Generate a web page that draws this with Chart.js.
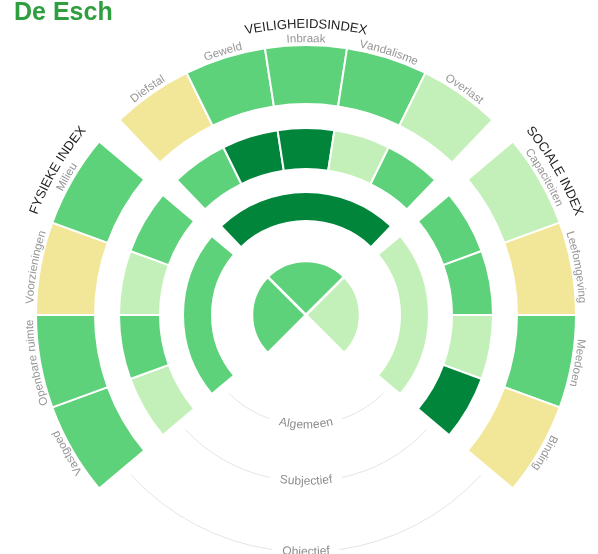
<!DOCTYPE html>
<html>
<head>
<meta charset="utf-8">
<script src="https://cdn.jsdelivr.net/npm/chart.js@4.4.1/dist/chart.umd.min.js"></script>
<style>
  html, body { margin: 0; padding: 0; background: #fff; }
  #wrap { position: relative; width: 598px; height: 554px; overflow: hidden; }
  #wheel { position: absolute; left: 0; top: 0; }
  #title {
    position: absolute; left: 14px; top: -1px;
    font: bold 25px 'Liberation Sans', Arial, sans-serif; line-height: 25px;
    color: #2e9e3e;
  }
</style>
</head>
<body>
<div id="wrap">
  <canvas id="wheel" width="598" height="554"></canvas>
  <div id="title">De Esch</div>
</div>
<script>
// scores: 1 = geel (onder gemiddeld), 2 = lichtgroen, 3 = groen, 4 = donkergroen
// indicators are listed clockwise, starting at the bottom left
const fysiekeLabels = ['Vastgoed', 'Openbare ruimte', 'Voorzieningen', 'Milieu'];
const fysiekeObjectief = [3, 3, 1, 3];
const fysiekeSubjectief = [2, 3, 2, 3];

const veiligheidLabels = ['Diefstal', 'Geweld', 'Inbraak', 'Vandalisme', 'Overlast'];
const veiligheidObjectief = [1, 3, 3, 3, 2];
const veiligheidSubjectief = [3, 4, 4, 2, 3];

const socialeLabels = ['Capaciteiten', 'Leefomgeving', 'Meedoen', 'Binding'];
const socialeObjectief = [2, 1, 3, 1];
const socialeSubjectief = [3, 3, 2, 4];

const indexLabels = ['FYSIEKE INDEX', 'VEILIGHEIDSINDEX', 'SOCIALE INDEX'];
const algemeenScores = [3, 4, 2];   // fysiek, veiligheid, sociaal
const totaalScores = [3, 3, 2];     // centre pie: left, top, right

const ringLabels = ['Objectief', 'Subjectief', 'Algemeen'];

const scoreColors = { 1: '#f2e798', 2: '#c3f0b8', 3: '#5ed17b', 4: '#00853b' };
const NONE = 'rgba(0,0,0,0)';

// angular layout (degrees)
const SIDE_LEAF = 20, TOP_LEAF = 17.5, SECTOR_GAP = 6.25, BOTTOM_GAP = 100;

function leafRing(fys, vei, soc, weight) {
  const data = [], bg = [], bw = [];
  const add = (size, score) => {
    data.push(size);
    bg.push(score ? scoreColors[score] : NONE);
    bw.push(score ? 2 : 0);
  };
  fys.forEach(s => add(SIDE_LEAF, s));
  add(SECTOR_GAP);
  vei.forEach(s => add(TOP_LEAF, s));
  add(SECTOR_GAP);
  soc.forEach(s => add(SIDE_LEAF, s));
  add(BOTTOM_GAP);
  return { data, backgroundColor: bg, borderWidth: bw, borderColor: '#fff', weight };
}

function sectorRing(scores, weight) {
  const c = scores.map(s => scoreColors[s]);
  return {
    data: [4 * SIDE_LEAF, SECTOR_GAP, 5 * TOP_LEAF, SECTOR_GAP, 4 * SIDE_LEAF, BOTTOM_GAP],
    backgroundColor: [c[0], NONE, c[1], NONE, c[2], NONE],
    borderWidth: [2, 0, 2, 0, 2, 0],
    borderColor: '#fff',
    weight
  };
}

function spacer(weight) {
  return { data: [1], backgroundColor: NONE, borderWidth: 0, weight };
}

const pie = {
  data: [90, 90, 90, 90],
  rotation: 225,
  backgroundColor: [...totaalScores.map(s => scoreColors[s]), NONE],
  borderWidth: [2.5, 2.5, 2.5, 0],
  borderColor: '#fff',
  weight: 54
};

const datasets = [
  leafRing(fysiekeObjectief, veiligheidObjectief, socialeObjectief, 59),
  spacer(24),
  leafRing(fysiekeSubjectief, veiligheidSubjectief, socialeSubjectief, 41),
  spacer(23),
  sectorRing(algemeenScores, 29),
  spacer(40),
  pie
];

function arcText(ctx, text, cx, cy, r, angle, align, outward) {
  const chars = [...text];
  const widths = chars.map(c => ctx.measureText(c).width);
  const span = widths.reduce((a, b) => a + b, 0) / r;
  const dir = outward ? 1 : -1;
  let start = angle;
  if (align === 'center') start = angle - dir * span / 2;
  else if (align === 'end') start = angle - dir * span;
  let acc = 0;
  ctx.textAlign = 'center';
  chars.forEach((c, i) => {
    const a = start + dir * (acc + widths[i] / 2) / r;
    acc += widths[i];
    ctx.save();
    ctx.translate(cx + r * Math.cos(a), cy + r * Math.sin(a));
    ctx.rotate(a + dir * Math.PI / 2);
    ctx.fillText(c, 0, 0);
    ctx.restore();
  });
  return span;
}

const wheelLabels = {
  id: 'wheelLabels',
  afterDatasetsDraw(chart) {
    const ctx = chart.ctx;
    const outer = chart.getDatasetMeta(0).data;
    const cx = outer[0].x, cy = outer[0].y, R = outer[0].outerRadius;
    const font = '"Liberation Sans", Arial, sans-serif';
    ctx.save();

    // indicator names around the outer ring
    const leafs = [...fysiekeLabels, null, ...veiligheidLabels, null, ...socialeLabels];
    ctx.font = '11.5px ' + font;
    ctx.fillStyle = '#969696';
    ctx.textBaseline = 'alphabetic';
    leafs.forEach((txt, i) => {
      if (!txt) return;
      const el = outer[i];
      arcText(ctx, txt, cx, cy, R + 3, (el.startAngle + el.endAngle) / 2, 'center', true);
    });

    // index titles
    ctx.font = '13px ' + font;
    ctx.fillStyle = '#222';
    const fysEnd = outer[3].endAngle;
    const veiMid = (outer[5].startAngle + outer[9].endAngle) / 2;
    const socStart = outer[11].startAngle;
    arcText(ctx, indexLabels[0], cx, cy, R + 17, fysEnd, 'end', true);
    arcText(ctx, indexLabels[1], cx, cy, R + 17, veiMid, 'center', true);
    arcText(ctx, indexLabels[2], cx, cy, R + 17, socStart, 'start', true);

    // ring names along the open bottom
    ctx.font = '12px ' + font;
    ctx.textBaseline = 'middle';
    const shift = [-3.5, 0, 1.5];
    [0, 2, 4].forEach((di, k) => {
      const els = chart.getDatasetMeta(di).data;
      const gap = els[els.length - 1];
      const r = (gap.innerRadius + gap.outerRadius) / 2 + shift[k];
      const mid = (gap.startAngle + gap.endAngle) / 2;
      ctx.fillStyle = '#8c8c8c';
      const span = arcText(ctx, ringLabels[k], cx, cy, r, mid, 'center', false);
      const pad = 10 / r;
      ctx.strokeStyle = '#e4e4e4';
      ctx.lineWidth = 1;
      ctx.beginPath();
      ctx.arc(cx, cy, r, gap.startAngle + pad, mid - span / 2 - pad);
      ctx.stroke();
      ctx.beginPath();
      ctx.arc(cx, cy, r, mid + span / 2 + pad, gap.endAngle - pad);
      ctx.stroke();
    });
    ctx.restore();
  }
};

new Chart(document.getElementById('wheel'), {
  type: 'doughnut',
  data: {
    labels: [...fysiekeLabels, '', ...veiligheidLabels, '', ...socialeLabels, ''],
    datasets
  },
  options: {
    responsive: false,
    devicePixelRatio: 1,
    animation: false,
    events: [],
    rotation: 230,
    circumference: 360,
    cutout: 0,
    radius: 270,
    layout: { padding: { left: 14, right: 0, top: 76, bottom: 0 } },
    plugins: {
      legend: { display: false },
      tooltip: { enabled: false }
    }
  },
  plugins: [wheelLabels]
});
</script>
</body>
</html>
